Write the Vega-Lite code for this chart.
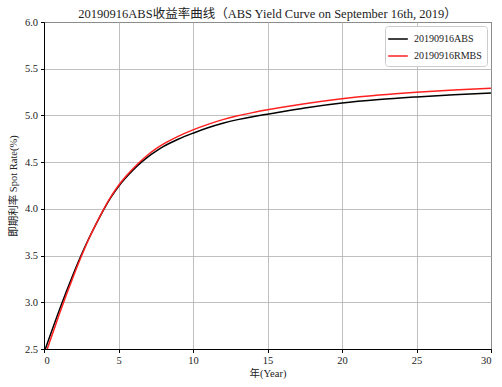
{
  "$schema": "https://vega.github.io/schema/vega-lite/v6.json",
  "autosize": "none",
  "width": 447,
  "height": 327,
  "padding": {"left": 44, "top": 22, "right": 11, "bottom": 38},
  "background": "white",
  "title": {
    "text": "20190916ABS收益率曲线（ABS Yield Curve on September 16th, 2019）",
    "font": "Liberation Serif, Noto Sans CJK SC",
    "fontSize": 12.5,
    "fontWeight": "normal",
    "color": "#222",
    "anchor": "middle",
    "offset": -3
  },
  "config": {
    "view": {"stroke": "black", "strokeWidth": 1},
    "axis": {
      "labelFont": "Liberation Serif, Noto Sans CJK SC",
      "titleFont": "Liberation Serif, Noto Sans CJK SC",
      "labelFontSize": 10.5,
      "titleFontSize": 10.5,
      "titleFontWeight": "normal",
      "labelColor": "#222",
      "titleColor": "#222",
      "domainColor": "black",
      "tickColor": "black",
      "tickSize": 3.5,
      "gridColor": "#b0b0b0",
      "gridWidth": 0.8,
      "gridOpacity": 1
    },
    "legend": {
      "labelFont": "Liberation Serif, Noto Sans CJK SC",
      "labelFontSize": 10,
      "labelColor": "#222"
    }
  },
  "data": {
    "values": [
      {"x": 0, "rate": 2.46, "series": "20190916ABS"},
      {"x": 0.5, "rate": 2.685, "series": "20190916ABS"},
      {"x": 1, "rate": 2.905, "series": "20190916ABS"},
      {"x": 1.5, "rate": 3.115, "series": "20190916ABS"},
      {"x": 2, "rate": 3.315, "series": "20190916ABS"},
      {"x": 2.5, "rate": 3.505, "series": "20190916ABS"},
      {"x": 3, "rate": 3.68, "series": "20190916ABS"},
      {"x": 3.5, "rate": 3.84, "series": "20190916ABS"},
      {"x": 4, "rate": 3.99, "series": "20190916ABS"},
      {"x": 4.5, "rate": 4.125, "series": "20190916ABS"},
      {"x": 5, "rate": 4.24, "series": "20190916ABS"},
      {"x": 5.5, "rate": 4.335, "series": "20190916ABS"},
      {"x": 6, "rate": 4.42, "series": "20190916ABS"},
      {"x": 6.5, "rate": 4.495, "series": "20190916ABS"},
      {"x": 7, "rate": 4.56, "series": "20190916ABS"},
      {"x": 7.5, "rate": 4.615, "series": "20190916ABS"},
      {"x": 8, "rate": 4.665, "series": "20190916ABS"},
      {"x": 9, "rate": 4.745, "series": "20190916ABS"},
      {"x": 10, "rate": 4.81, "series": "20190916ABS"},
      {"x": 11, "rate": 4.868, "series": "20190916ABS"},
      {"x": 12, "rate": 4.916, "series": "20190916ABS"},
      {"x": 13, "rate": 4.955, "series": "20190916ABS"},
      {"x": 14, "rate": 4.987, "series": "20190916ABS"},
      {"x": 15, "rate": 5.013, "series": "20190916ABS"},
      {"x": 17.5, "rate": 5.08, "series": "20190916ABS"},
      {"x": 20, "rate": 5.133, "series": "20190916ABS"},
      {"x": 22.5, "rate": 5.17, "series": "20190916ABS"},
      {"x": 25, "rate": 5.198, "series": "20190916ABS"},
      {"x": 27.5, "rate": 5.222, "series": "20190916ABS"},
      {"x": 30, "rate": 5.24, "series": "20190916ABS"},
      {"x": 0, "rate": 2.40, "series": "20190916RMBS"},
      {"x": 0.5, "rate": 2.63, "series": "20190916RMBS"},
      {"x": 1, "rate": 2.86, "series": "20190916RMBS"},
      {"x": 1.5, "rate": 3.08, "series": "20190916RMBS"},
      {"x": 2, "rate": 3.29, "series": "20190916RMBS"},
      {"x": 2.5, "rate": 3.49, "series": "20190916RMBS"},
      {"x": 3, "rate": 3.675, "series": "20190916RMBS"},
      {"x": 3.5, "rate": 3.84, "series": "20190916RMBS"},
      {"x": 4, "rate": 3.995, "series": "20190916RMBS"},
      {"x": 4.5, "rate": 4.133, "series": "20190916RMBS"},
      {"x": 5, "rate": 4.25, "series": "20190916RMBS"},
      {"x": 5.5, "rate": 4.348, "series": "20190916RMBS"},
      {"x": 6, "rate": 4.435, "series": "20190916RMBS"},
      {"x": 6.5, "rate": 4.513, "series": "20190916RMBS"},
      {"x": 7, "rate": 4.582, "series": "20190916RMBS"},
      {"x": 7.5, "rate": 4.641, "series": "20190916RMBS"},
      {"x": 8, "rate": 4.692, "series": "20190916RMBS"},
      {"x": 9, "rate": 4.776, "series": "20190916RMBS"},
      {"x": 10, "rate": 4.845, "series": "20190916RMBS"},
      {"x": 11, "rate": 4.904, "series": "20190916RMBS"},
      {"x": 12, "rate": 4.955, "series": "20190916RMBS"},
      {"x": 13, "rate": 4.996, "series": "20190916RMBS"},
      {"x": 14, "rate": 5.03, "series": "20190916RMBS"},
      {"x": 15, "rate": 5.06, "series": "20190916RMBS"},
      {"x": 17.5, "rate": 5.125, "series": "20190916RMBS"},
      {"x": 20, "rate": 5.178, "series": "20190916RMBS"},
      {"x": 22.5, "rate": 5.218, "series": "20190916RMBS"},
      {"x": 25, "rate": 5.248, "series": "20190916RMBS"},
      {"x": 27.5, "rate": 5.272, "series": "20190916RMBS"},
      {"x": 30, "rate": 5.292, "series": "20190916RMBS"}
    ]
  },
  "mark": {"type": "line", "clip": true, "strokeWidth": 1.5, "interpolate": "monotone"},
  "encoding": {
    "x": {
      "field": "x",
      "type": "quantitative",
      "scale": {"domain": [0, 30], "nice": false, "zero": false},
      "axis": {"values": [0, 5, 10, 15, 20, 25, 30], "format": "d", "title": "年(Year)", "labelPadding": 3, "titlePadding": 2}
    },
    "y": {
      "field": "rate",
      "type": "quantitative",
      "scale": {"domain": [2.5, 6.0], "nice": false, "zero": false},
      "axis": {"values": [2.5, 3.0, 3.5, 4.0, 4.5, 5.0, 5.5, 6.0], "format": ".1f", "title": "即期利率 Spot Rate(%)", "labelPadding": 3, "titlePadding": 6}
    },
    "color": {
      "field": "series",
      "type": "nominal",
      "scale": {"domain": ["20190916ABS", "20190916RMBS"], "range": ["black", "#ff2020"]},
      "legend": {
        "title": null,
        "orient": "top-right",
        "offset": 4,
        "fillColor": "white",
        "strokeColor": "#cccccc",
        "cornerRadius": 3,
        "padding": 5,
        "symbolType": "M-1.4,0H1.4",
        "symbolSize": 196,
        "symbolStrokeWidth": 1.5,
        "labelOffset": 8,
        "rowPadding": 4
      }
    }
  }
}
